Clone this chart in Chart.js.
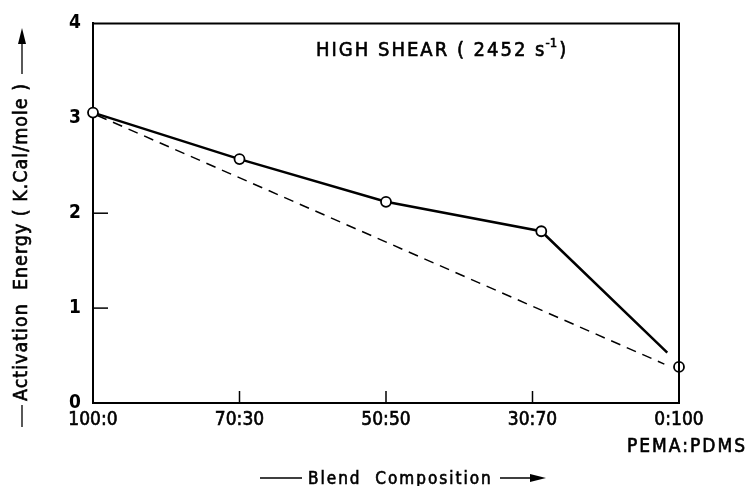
<!DOCTYPE html>
<html>
<head>
<meta charset="utf-8">
<script src="https://cdn.jsdelivr.net/npm/chart.js@4.4.0/dist/chart.umd.min.js"></script>
<style>
  html, body { margin: 0; padding: 0; background: #fff; }
</style>
</head>
<body>
<canvas id="chart" width="748" height="486"></canvas>
<script>
// composition categories along the x axis (evenly spaced)
const compositions = ["100:0", "70:30", "50:50", "30:70", "0:100"];
const yTickValues = [0, 1, 2, 3, 4];

// measured activation energies (x = position on composition axis)
const curveX = [0, 1, 2, 3.06, 3.92];
const curveY = [3.06, 2.57, 2.12, 1.81, 0.53];
const pointX = [0, 1, 2, 3.06, 4];
const pointY = [3.06, 2.57, 2.12, 1.81, 0.38];
// additivity line
const additiveX = [0.03, 3.9];
const additiveY = [3.03, 0.41];

const FONT = "'DejaVu Sans Condensed', 'DejaVu Sans', sans-serif";

const toXY = (xs, ys) => xs.map((x, i) => ({ x: x, y: ys[i] }));

// fill + thin stroke to get a medium weight
function heavyText(ctx, text, x, y) {
  ctx.fillText(text, x, y);
  ctx.strokeText(text, x, y);
}

const decorations = {
  id: "decorations",
  afterDraw(chart) {
    const ctx = chart.ctx;
    const a = chart.chartArea;
    const xs = chart.scales.x;
    const ys = chart.scales.y;
    ctx.save();
    ctx.strokeStyle = "#000";
    ctx.fillStyle = "#000";

    // top and right frame
    ctx.lineWidth = 2;
    ctx.beginPath();
    ctx.moveTo(a.left, a.top);
    ctx.lineTo(a.right, a.top);
    ctx.lineTo(a.right, a.bottom);
    ctx.stroke();

    // inward ticks
    ctx.lineWidth = 1.5;
    [1, 2].forEach(v => {
      const py = ys.getPixelForValue(v);
      ctx.beginPath();
      ctx.moveTo(a.left, py);
      ctx.lineTo(a.left + 15, py);
      ctx.stroke();
    });
    [1, 2, 3].forEach(v => {
      const px = xs.getPixelForValue(v);
      ctx.beginPath();
      ctx.moveTo(px, a.bottom);
      ctx.lineTo(px, a.bottom - 12);
      ctx.stroke();
    });

    ctx.lineWidth = 0.6;

    // title inside plot
    ctx.font = "20px " + FONT;
    ctx.textBaseline = "alphabetic";
    ctx.textAlign = "left";
    ctx.letterSpacing = "2px";
    let tx = 316;
    const ty = 56;
    const main = "HIGH SHEAR ( 2452 s";
    heavyText(ctx, main, tx, ty);
    tx += ctx.measureText(main).width;
    ctx.font = "13px " + FONT;
    ctx.letterSpacing = "0px";
    heavyText(ctx, "-1", tx - 1, ty - 9);
    tx += ctx.measureText("-1").width + 1;
    ctx.font = "20px " + FONT;
    heavyText(ctx, ")", tx, ty);

    // PEMA:PDMS label
    ctx.font = "19px " + FONT;
    ctx.letterSpacing = "2px";
    ctx.textAlign = "right";
    heavyText(ctx, "PEMA:PDMS", 747, 452);
    ctx.letterSpacing = "0px";

    // x axis title with arrow
    ctx.font = "17px " + FONT;
    ctx.letterSpacing = "2px";
    ctx.textAlign = "left";
    heavyText(ctx, "Blend  Composition", 308, 484);
    ctx.letterSpacing = "0px";
    ctx.lineWidth = 1.3;
    ctx.beginPath();
    ctx.moveTo(260, 478); ctx.lineTo(302, 478);
    ctx.moveTo(500, 478); ctx.lineTo(532, 478);
    ctx.stroke();
    ctx.beginPath();
    ctx.moveTo(546, 478); ctx.lineTo(530, 474); ctx.lineTo(530, 482);
    ctx.closePath(); ctx.fill();

    // y axis title with arrow (rotated)
    ctx.save();
    ctx.translate(22, 0);
    ctx.rotate(-Math.PI / 2);
    ctx.font = "19.5px " + FONT;
    ctx.letterSpacing = "1px";
    ctx.textAlign = "left";
    ctx.textBaseline = "middle";
    ctx.lineWidth = 0.6;
    heavyText(ctx, "Activation  Energy ( K.Cal/mole )", -401, 0);
    ctx.letterSpacing = "0px";
    ctx.lineWidth = 1.3;
    ctx.beginPath();
    ctx.moveTo(-427, 0); ctx.lineTo(-405, 0);
    ctx.moveTo(-74, 0); ctx.lineTo(-42, 0);
    ctx.stroke();
    ctx.beginPath();
    ctx.moveTo(-28, 0); ctx.lineTo(-44, -4); ctx.lineTo(-44, 4);
    ctx.closePath(); ctx.fill();
    ctx.restore();

    ctx.restore();
  }
};

new Chart(document.getElementById("chart"), {
  type: "scatter",
  data: {
    datasets: [
      {
        data: toXY(pointX, pointY),
        showLine: false,
        pointRadius: 5,
        pointBackgroundColor: "#fff",
        pointBorderColor: "#000",
        pointBorderWidth: 1.8,
        clip: false
      },
      {
        data: toXY(curveX, curveY),
        showLine: true,
        borderColor: "#000",
        borderWidth: 2.5,
        tension: 0,
        pointRadius: 0,
        clip: false
      },
      {
        data: toXY(additiveX, additiveY),
        showLine: true,
        borderColor: "#000",
        borderWidth: 1.5,
        borderDash: [10, 7],
        pointRadius: 0,
        clip: false
      }
    ]
  },
  options: {
    responsive: false,
    animation: false,
    layout: { padding: { top: 16, right: 69, left: 0, bottom: 0 } },
    plugins: {
      legend: { display: false },
      tooltip: { enabled: false }
    },
    scales: {
      x: {
        type: "linear",
        min: 0,
        max: 4,
        afterFit: s => { s.height = 83; },
        afterBuildTicks: s => { s.ticks = compositions.map((c, i) => ({ value: i })); },
        grid: { display: false, drawTicks: false },
        border: { display: true, color: "#000", width: 2 },
        ticks: {
          color: "#000",
          padding: 6,
          maxRotation: 0,
          textStrokeColor: "#000",
          textStrokeWidth: 0.6,
          font: { family: FONT, size: 19 },
          callback: v => compositions[v]
        }
      },
      y: {
        min: 0,
        max: 4,
        afterFit: s => { s.width = 93; },
        afterBuildTicks: s => { s.ticks = yTickValues.map(v => ({ value: v })); },
        grid: { display: false, drawTicks: false },
        border: { display: true, color: "#000", width: 2 },
        ticks: {
          color: "#000",
          padding: 12,
          font: { family: FONT, size: 19, weight: "bold" }
        }
      }
    }
  },
  plugins: [decorations]
});
</script>
</body>
</html>
